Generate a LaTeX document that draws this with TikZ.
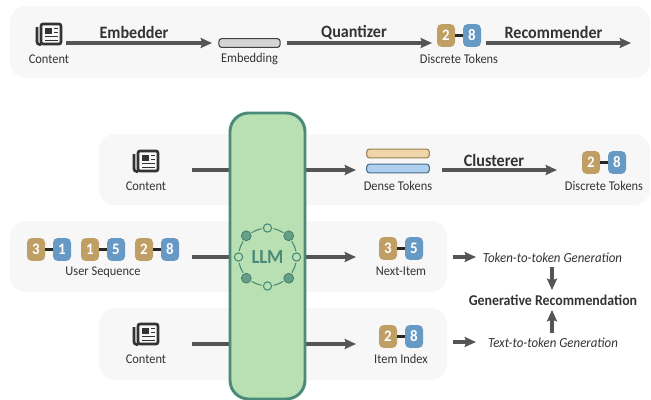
\documentclass[tikz,border=0pt]{standalone}
\usepackage{fontspec}
\setmainfont{Carlito}[FakeStretch=0.93]
\usetikzlibrary{arrows.meta,calc}
\definecolor{panelc}{HTML}{F7F7F7}
\definecolor{linec}{HTML}{555555}
\definecolor{tan}{HTML}{C09F65}
\definecolor{blu}{HTML}{6699C4}
\definecolor{llmf}{HTML}{B9E0B3}
\definecolor{llmd}{HTML}{4A8A78}
\definecolor{txt}{HTML}{333333}
\definecolor{densea}{HTML}{F0D5A8}
\definecolor{denseb}{HTML}{AED0EE}
\tikzset{
 x=0.75pt,y=-0.75pt,
 panel/.style={fill=panelc,draw=none,rounded corners=12pt},
 flow/.style={draw=linec,line width=2.5pt,-{Stealth[length=8.5pt,width=7.5pt,inset=1.2pt]}},
 plain/.style={draw=linec,line width=2.5pt},
 lab/.style={font=\fontsize{10pt}{12pt}\selectfont,text=txt,inner sep=0pt},
 blab/.style={font=\fontsize{13pt}{15pt}\selectfont\bfseries,text=txt,inner sep=0pt},
 gblab/.style={font=\fontsize{11.2pt}{13pt}\selectfont\bfseries,text=txt,inner sep=0pt},
 ital/.style={font=\fontsize{10.4pt}{13pt}\selectfont\itshape,text=txt,inner sep=0pt},
 tok/.style={minimum width=13.5pt,minimum height=17.2pt,inner sep=0pt,rounded corners=3.5pt,text=white,font=\fontsize{12pt}{13pt}\selectfont\bfseries},
 tanT/.style={tok,fill=tan},
 bluT/.style={tok,fill=blu},
 link/.style={draw=black!85,line width=2.2pt},
 bar/.style={minimum width=47pt,minimum height=6.6pt,inner sep=0pt,rounded corners=2.2pt,line width=0.8pt},
 ring/.style={circle,inner sep=0pt,minimum size=6.2pt,draw=llmd,line width=0.8pt,fill=llmf},
 ringf/.style={circle,inner sep=0pt,minimum size=7.4pt,draw=llmd!85!black,line width=0.5pt,fill=llmd!75!llmf},
 newsicon/.pic={
  \draw[line width=2pt,draw=black!80,rounded corners=1.5pt] (-8,-10) rectangle (12,10);
  \draw[line width=2pt,draw=black!80,rounded corners=2pt] (-8,10.5) -- (-12,10.5) -- (-12,-7);
  \fill[black!80] (-4,-6.5) rectangle (3,-0.5);
  \draw[line width=1.3pt,draw=black!80] (5,-5.5) -- (9,-5.5) (5,-1.5) -- (9,-1.5) (-4,2.5) -- (9,2.5) (-4,6.5) -- (9,6.5);
 }
}
\begin{document}
\begin{tikzpicture}
\useasboundingbox (0,0) rectangle (651,400);
% panels
\fill[panel] (10,6) rectangle (650,78);
\fill[panel] (99,134) rectangle (650,205);
\fill[panel] (10,221) rectangle (447,292);
\fill[panel] (99,308) rectangle (447,380);
% row A
\pic at (49,34) {newsicon};
\node[lab] (cA) at (49,59) {Content};
\coordinate (aS) at (66,43);
\coordinate (aE) at (212,43);
\draw[flow] (aS) -- (aE);
\node[blab] (embedder) at (134,32.5) {Embedder};
\node[bar,fill=black!17,draw=black!75,minimum width=46pt] (emb) at (249.5,43) {};
\node[lab] (embL) at (249.5,59) {Embedding};
\coordinate (bS) at (287,43);
\coordinate (bE) at (432,43);
\draw[flow] (bS) -- (bE);
\node[blab] (quant) at (354,32.5) {Quantizer};
\node[tanT] (t1) at (446,35.5) {2};
\node[bluT] (t2) at (472,35.5) {8};
\draw[link] (t1) -- (t2);
\node[lab] (dA) at (459,59) {Discrete Tokens};
\coordinate (cS) at (486,43);
\coordinate (cE) at (631,43);
\draw[flow] (cS) -- (cE);
\node[blab] (rec) at (553.5,32.5) {Recommender};
% row B
\pic at (146,161) {newsicon};
\node[lab] (cB) at (146,186) {Content};
\coordinate (dS) at (192,170);
\coordinate (dE) at (230,170);
\draw[plain] (dS) -- (dE);
\coordinate (eS) at (305,170);
\coordinate (eE) at (356,170);
\draw[flow] (eS) -- (eE);
\node[bar,fill=densea,draw=tan!80!black] (dt1) at (398,153.5) {};
\node[bar,fill=denseb,draw=blu!70!black] (dt2) at (398,168.5) {};
\node[lab] (dtL) at (398,186) {Dense Tokens};
\coordinate (fS) at (442,170);
\coordinate (fE) at (557,170);
\draw[flow] (fS) -- (fE);
\node[blab] (clu) at (494,160) {Clusterer};
\node[tanT] (t3) at (591,162.5) {2};
\node[bluT] (t4) at (617,162.5) {8};
\draw[link] (t3) -- (t4);
\node[lab] (dB) at (604,186) {Discrete Tokens};
% row C
\node[tanT] (s1) at (36,249.5) {3};
\node[bluT] (s2) at (62,249.5) {1};
\draw[link] (s1) -- (s2);
\node[tanT] (s3) at (90,249.5) {1};
\node[bluT] (s4) at (116,249.5) {5};
\draw[link] (s3) -- (s4);
\node[tanT] (s5) at (144,249.5) {2};
\node[bluT] (s6) at (170,249.5) {8};
\draw[link] (s5) -- (s6);
\node[lab] (usL) at (103,272) {User Sequence};
\coordinate (gS) at (192,257);
\coordinate (gE) at (230,257);
\draw[plain] (gS) -- (gE);
\coordinate (hS) at (305,257);
\coordinate (hE) at (356,257);
\draw[flow] (hS) -- (hE);
\node[tanT] (n1) at (388,248.5) {3};
\node[bluT] (n2) at (414,248.5) {5};
\draw[link] (n1) -- (n2);
\node[lab] (niL) at (401,271) {Next-Item};
\node[ital] (t2t) at (552.5,257.5) {Token-to-token Generation};
\coordinate (iS) at (453,257);
\coordinate (iE) at (476,257);
\draw[flow] (iS) -- (iE);
\node[gblab] (gen) at (553,300) {Generative Recommendation};
\coordinate (jS) at (552,267);
\coordinate (jE) at (552,290);
\draw[flow] (jS) -- (jE);
\coordinate (kS) at (552,333);
\coordinate (kE) at (552,310);
\draw[flow] (kS) -- (kE);
% row D
\pic at (146,334) {newsicon};
\node[lab] (cD) at (146,359) {Content};
\coordinate (lS) at (192,344);
\coordinate (lE) at (230,344);
\draw[plain] (lS) -- (lE);
\coordinate (mS) at (305,344);
\coordinate (mE) at (356,344);
\draw[flow] (mS) -- (mE);
\node[tanT] (x1) at (388,336.5) {2};
\node[bluT] (x2) at (414,336.5) {8};
\draw[link] (x1) -- (x2);
\node[lab] (xL) at (401,359) {Item Index};
\node[ital] (x2t) at (553,343) {Text-to-token Generation};
\coordinate (oS) at (453,342);
\coordinate (oE) at (476,342);
\draw[flow] (oS) -- (oE);
% LLM
\draw[fill=llmf,draw=llmd,line width=2.2pt,rounded corners=14pt] (230,113) rectangle (305,399);
\coordinate (c) at (267.5,257);
\foreach \a in {0,45,...,315}{
  \draw[draw=llmd,line width=0.8pt] ($(c)+({\a+12}:29)$) arc[start angle=-\a-12,delta angle=-21,radius=21.75pt];
}
\node[ring] (r0) at ($(c)+(0:29)$) {};
\node[ringf] (r1) at ($(c)+(45:30)$) {};
\node[ring] (r2) at ($(c)+(90:29)$) {};
\node[ringf] (r3) at ($(c)+(135:30)$) {};
\node[ring] (r4) at ($(c)+(180:29)$) {};
\node[ringf] (r5) at ($(c)+(225:30)$) {};
\node[ring] (r6) at ($(c)+(270:29)$) {};
\node[ringf] (r7) at ($(c)+(315:30)$) {};
\node[inner sep=0pt,text=llmd,font=\fontsize{15pt}{17pt}\selectfont\bfseries] (llmT) at (c) {LLM};
\end{tikzpicture}
\end{document}
